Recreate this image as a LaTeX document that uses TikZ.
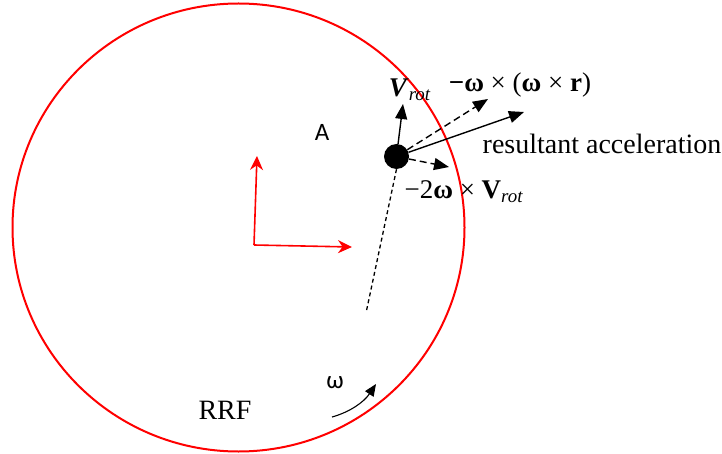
\documentclass[tikz,border=0pt]{standalone}
\usepackage{fontspec}
\setmainfont{Liberation Serif}
\newfontfamily\lblsans{Carlito}
\usepackage{tikz}
\usetikzlibrary{arrows.meta,positioning}

\begin{document}
\begin{tikzpicture}[
  x=1pt, y=-1pt,
  frame/.style={draw=red, line width=2pt},
  axis/.style={-{Stealth[length=14pt,width=13pt]}, red, line width=1.6pt},
  vec/.style={-{Triangle[length=15pt,width=12pt]}, line width=1.4pt},
  dvec/.style={vec, dash pattern=on 7pt off 4pt},
  mass/.style={circle, fill=black, inner sep=0pt, minimum size=25pt},
  lbl/.style={inner sep=1pt, font=\fontsize{27}{30}\selectfont},
  biglbl/.style={inner sep=1pt, font=\fontsize{28}{32}\selectfont},
  sanslbl/.style={inner sep=1pt, font=\lblsans\fontsize{25}{28}\selectfont}
]
\useasboundingbox (0,0) rectangle (722,454);

% Rotating frame
\draw[frame] (238.5,227.5) ellipse [x radius=226, y radius=224];

% Axes of the frame
\coordinate (o) at (254,245);
\coordinate (ox) at (352,247);
\coordinate (oy) at (257,156);
\draw[axis] (o) -- (ox);
\draw[axis] (o) -- (oy);
\node[sanslbl] (a) at (322,132) {A};

% Mass and its vectors
\node[mass] (m) at (396.5,156.5) {};
\coordinate (pivot) at (366,313);
\draw[line width=1.3pt, dash pattern=on 4pt off 3pt] (m.south) -- (pivot);

\coordinate (vr) at (403,104);
\coordinate (cf) at (488,99);
\coordinate (ra) at (524,112);
\coordinate (co) at (449,167);
\draw[vec] (m) -- (vr);
\draw[dvec] (m) -- (cf);
\draw[vec] (m) -- (ra);
\draw[dvec] (m) -- (co);

\node[lbl] (vrlbl) at (410,90) {\textbf{\textit{V}}\textsubscript{\textit{rot}}};
\node[lbl] (cflbl) at (520,85) {\textbf{−ω} × (\textbf{ω} × \textbf{r})};
\node[biglbl] (ralbl) at (602,144) {resultant acceleration};
\node[lbl] (colbl) at (464,192) {−2\textbf{ω} × \textbf{V}\textsubscript{\textit{rot}}};

% Sense of rotation
\node[biglbl] (rrf) at (225,410) {RRF};
\node[sanslbl] (w) at (335,383) {ω};
\coordinate (ws) at (332,417);
\coordinate (we) at (376,384);
\draw[-{Triangle[length=12pt,width=10pt]}, line width=1.1pt] (ws) .. controls (350,412) and (364,402) .. (we);
\end{tikzpicture}
\end{document}
